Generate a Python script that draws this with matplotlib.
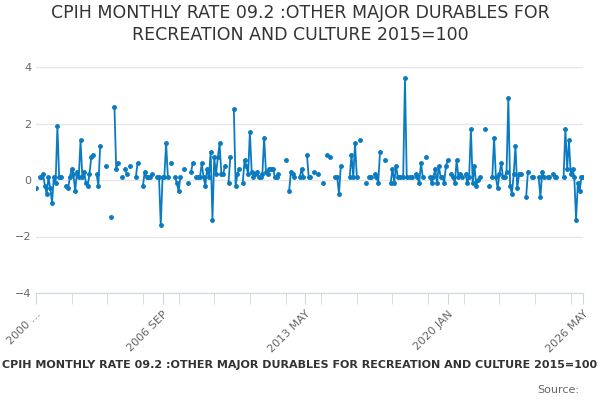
import numpy as np
import matplotlib.pyplot as plt

# Monthly rate, Oct 2000 .. May 2026 (None = no value)
N = None
rate = [
    -0.3, N, 0.1, 0.1, 0.2, -0.2, -0.5, 0.1, -0.3, -0.8, 0.1, -0.1,
    1.9, 0.1, 0.1, N, N, -0.2, -0.3, 0.1, 0.4, 0.2, -0.4, 0.3,
    0.1, 1.4, 0.1, 0.3, -0.1, -0.2, 0.2, 0.8, 0.9, N, 0.2, -0.2,
    1.2, N, N, 0.5, N, N, -1.3, N, 2.6, 0.4, 0.6, N,
    0.1, N, 0.4, 0.2, N, 0.5, N, N, 0.1, 0.6, N, N,
    -0.2, 0.3, 0.1, 0.1, 0.1, 0.2, N, N, 0.1, 0.1, -1.6, 0.1,
    0.1, 1.3, 0.1, N, 0.6, N, 0.1, -0.1, -0.4, 0.1, N, 0.4,
    N, -0.1, N, 0.3, 0.6, N, 0.1, 0.1, 0.1, 0.6, 0.1, -0.2,
    0.4, 0.1, 1.0, -1.4, 0.8, 0.2, 0.8, 1.3, 0.2, 0.2, 0.5, N,
    -0.1, 0.8, N, 2.5, -0.2, 0.2, 0.4, N, -0.1, 0.7, 0.5, 0.2,
    1.7, 0.3, 0.1, 0.2, 0.3, 0.1, 0.1, 0.2, 1.5, 0.3, 0.2, 0.4,
    0.4, 0.4, 0.1, 0.1, 0.2, N, N, N, 0.7, N, -0.4, 0.3,
    0.2, 0.1, N, N, 0.1, 0.4, 0.1, N, 0.9, 0.1, 0.1, N,
    0.3, N, 0.2, N, N, -0.1, N, 0.9, N, 0.8, N, N,
    0.1, 0.1, -0.5, 0.5, N, N, N, N, 0.1, 0.9, 0.1, 1.3,
    0.1, N, 1.4, N, N, -0.1, N, 0.1, 0.1, N, 0.2, 0.1,
    -0.1, 1.0, N, N, 0.7, N, N, -0.1, 0.4, -0.1, 0.5, 0.1,
    0.1, N, 0.1, 3.6, 0.1, N, 0.1, 0.1, N, 0.2, 0.1, -0.1,
    0.6, 0.1, N, 0.8, N, 0.1, -0.1, 0.1, 0.4, -0.1, 0.5, 0.1,
    0.1, -0.1, 0.5, 0.7, N, 0.2, 0.1, -0.1, 0.7, 0.1, 0.2, 0.1,
    N, 0.2, -0.1, 0.1, 1.8, -0.1, 0.5, -0.2, 0.0, 0.1, N, N,
    1.8, N, -0.2, N, 0.1, 1.5, 0.1, -0.3, 0.2, 0.6, 0.1, 0.1,
    0.3, 2.9, -0.2, -0.5, 0.2, 1.2, -0.3, 0.2, 0.2, N, N, -0.6,
    0.3, N, 0.1, 0.1, N, N, 0.1, -0.6, 0.3, 0.1, N, 0.1,
    0.1, N, 0.2, 0.1, 0.1, N, N, N, 0.1, 1.8, 0.4, 1.4, 0.2, 0.4, 0.1,
    -1.4, -0.1, -0.4, 0.1, 0.1,
]
tick_pos = [0, 71, 151, 231, 307]
tick_labels = ["2000 …", "2006 SEP", "2013 MAY", "2020 JAN", "2026 MAY"]

y = np.array([np.nan if v is None else v for v in rate], dtype=float)
x = np.arange(len(y))

fig = plt.figure(figsize=(6, 4), dpi=100)
ax = fig.add_axes([0.06, 0.2675, 0.912, 0.565])
ax.plot(x, y, color="#0b7bc1", lw=1.3, marker="o", ms=2.5)
ax.set_xlim(0, len(y) - 1)
ax.set_ylim(-4, 4)
ax.set_yticks([-4, -2, 0, 2, 4])
ax.grid(axis="y", color="#e6e6e6", lw=1)
ax.set_axisbelow(True)
for s in ["top", "right", "left"]:
    ax.spines[s].set_visible(False)
ax.spines["bottom"].set_color("#ccd6eb")
ax.set_xticks(np.arange(0, len(y), 20), minor=True)
ax.set_xticks(tick_pos)
ax.set_xticklabels(tick_labels, rotation=45, ha="right", rotation_mode="anchor",
                   fontsize=8, color="#666666")
ax.tick_params(axis="x", which="both", length=8, color="#ccd6eb")
ax.tick_params(axis="y", length=0, labelsize=8, labelcolor="#666666")

fig.text(0.5, 0.94, "CPIH MONTHLY RATE 09.2 :OTHER MAJOR DURABLES FOR\nRECREATION AND CULTURE 2015=100",
         ha="center", va="center", fontsize=12.5, color="#333333", linespacing=1.3)
fig.text(0.5, 0.0875, "CPIH MONTHLY RATE 09.2 :OTHER MAJOR DURABLES FOR RECREATION AND CULTURE 2015=100",
         ha="center", va="center", fontsize=8, fontweight="bold", color="#333333")
fig.text(0.965, 0.025, "Source:", ha="right", va="center", fontsize=8, color="#666666")

fig.savefig("out.png", dpi=100)
